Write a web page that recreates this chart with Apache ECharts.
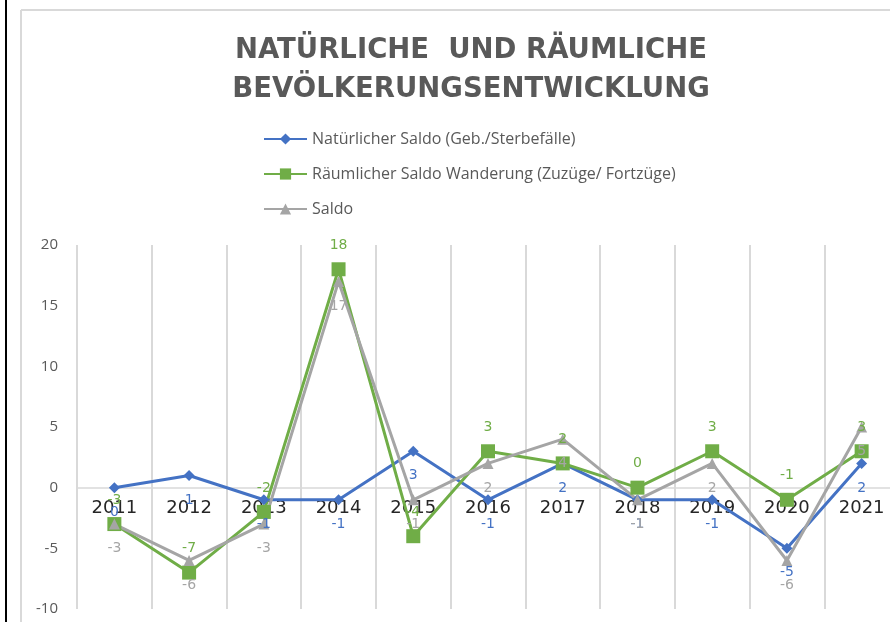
<!DOCTYPE html>
<html>
<head>
<meta charset="utf-8">
<script src="https://cdn.jsdelivr.net/npm/echarts@6/dist/echarts.min.js"></script>
<style>
html,body{margin:0;padding:0;background:#fff;}
#chart{width:890px;height:622px;}
</style>
</head>
<body>
<div id="chart"></div>
<script>
const titleText = 'NATÜRLICHE  UND RÄUMLICHE\nBEVÖLKERUNGSENTWICKLUNG';
const years = ['2011','2012','2013','2014','2015','2016','2017','2018','2019','2020','2021'];
const seriesNames = ['Natürlicher Saldo (Geb./Sterbefälle)','Räumlicher Saldo Wanderung (Zuzüge/ Fortzüge)','Saldo'];
const natuerlich = [0, 1, -1, -1, 3, -1, 2, -1, -1, -5, 2];
const raeumlich = [-3, -7, -2, 18, -4, 3, 2, 0, 3, -1, 3];
const saldo = [-3, -6, -3, 17, -1, 2, 4, -1, 2, -6, 5];
const yMin = -10, yMax = 20, yStep = 5;

const gridHeight = 364;
const chart = echarts.init(document.getElementById('chart'), null, {renderer:'canvas'});
const colors = ['#4472C4', '#70AD47', '#A5A5A5'];
function mkSeries(name, data, color, symbol, size, pos, dist) {
  return {
    name: name, type: 'line', data: data,
    symbol: symbol, symbolSize: size,
    lineStyle: {color: color, width: 3},
    itemStyle: {color: color},
    label: {show: true, position: pos, distance: dist, color: color, fontSize: 14, fontFamily: 'DejaVu Sans'},
    z: 3
  };
}
chart.setOption({
  animation: false,
  backgroundColor: '#fff',
  graphic: [
    {type:'rect', shape:{x:5, y:0, width:2, height:622}, style:{fill:'#000'}, silent:true},
    {type:'line', shape:{x1:21, y1:10, x2:890, y2:10}, style:{stroke:'#d9d9d9', lineWidth:2}, silent:true},
    {type:'line', shape:{x1:21, y1:10, x2:21, y2:622}, style:{stroke:'#d9d9d9', lineWidth:2}, silent:true}
  ],
  title: {
    text: titleText,
    left: 466, top: 26, textAlign: 'center',
    textStyle: {color:'#595959', fontSize: 27.5, fontWeight: 'bold', fontFamily: 'DejaVu Sans', lineHeight: 39}
  },
  legend: {
    orient: 'vertical', left: 258, top: 126,
    itemWidth: 43, itemHeight: 14, itemGap: 19,
    textStyle: {color:'#595959', fontSize: 16, fontFamily: 'Open Sans'},
    data: seriesNames
  },
  grid: {left: 77, top: 245, width: 822, height: gridHeight, containLabel: false, outerBoundsMode: 'none'},
  xAxis: {
    type: 'category', data: years, boundaryGap: true,
    offset: -gridHeight * (0 - yMin) / (yMax - yMin),
    axisLine: {onZero: false, lineStyle: {color:'#d9d9d9', width: 1.5}},
    axisTick: {show: false},
    splitLine: {show: true, lineStyle: {color:'#d9d9d9', width: 2}},
    axisLabel: {color:'#262626', fontSize: 18, fontFamily: 'DejaVu Sans', margin: 12},
    z: 1
  },
  yAxis: {
    type: 'value', min: yMin, max: yMax, interval: yStep,
    axisLine: {show: false}, axisTick: {show: false},
    splitLine: {show: false},
    axisLabel: {color:'#595959', fontSize: 15, fontFamily: 'Open Sans', margin: 19}
  },
  series: [
    mkSeries(seriesNames[0], natuerlich, colors[0], 'diamond', 11, 'bottom', 12),
    mkSeries(seriesNames[1], raeumlich, colors[1], 'rect', 14, 'top', 10),
    mkSeries(seriesNames[2], saldo, colors[2], 'triangle', 11, 'bottom', 12)
  ]
});
</script>
</body>
</html>
